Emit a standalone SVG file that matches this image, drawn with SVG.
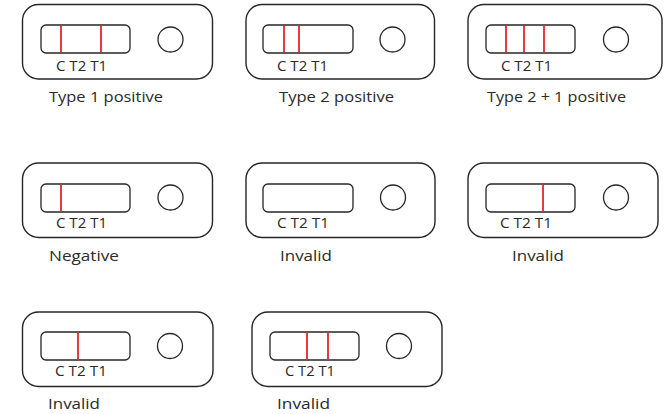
<svg xmlns="http://www.w3.org/2000/svg" width="665" height="414" viewBox="0 0 665 414">
  <defs>
    <style>
      .card { fill: #ffffff; stroke: #262626; stroke-width: 1.4; }
      .win { fill: #ffffff; stroke: #262626; stroke-width: 1.3; }
      .well { fill: #ffffff; stroke: #262626; stroke-width: 1.3; }
      .band { stroke: #e3262d; stroke-width: 1.8; }
      .mark { font-family: "Open Sans", "Liberation Sans", sans-serif; font-size: 14.5px; fill: #2a2a2a; }
      .cap { font-family: "Open Sans", "Liberation Sans", sans-serif; font-size: 14.5px; fill: #2a2a2a; }
    </style>
  </defs>
  <rect width="665" height="414" fill="#ffffff"/>

  <!-- Row 1 -->
  <g id="type1-positive">
    <rect class="card" x="22.5" y="4.5" width="190" height="74.5" rx="16"/>
    <rect class="win" x="41" y="25" width="89" height="28" rx="5"/>
    <line class="band" x1="61" y1="25.7" x2="61" y2="52.3"/>
    <line class="band" x1="101" y1="25.7" x2="101" y2="52.3"/>
    <ellipse class="well" cx="170.5" cy="39.5" rx="12.5" ry="12.5"/>
    <text class="mark" x="56" y="71" textLength="51" lengthAdjust="spacingAndGlyphs">C T2 T1</text>
    <text class="cap" x="49" y="102" textLength="114" lengthAdjust="spacingAndGlyphs">Type 1 positive</text>
  </g>

  <g id="type2-positive">
    <rect class="card" x="246" y="4.5" width="188.5" height="74.5" rx="16"/>
    <rect class="win" x="263" y="25" width="90" height="28" rx="5"/>
    <line class="band" x1="284" y1="25.7" x2="284" y2="52.3"/>
    <line class="band" x1="299" y1="25.7" x2="299" y2="52.3"/>
    <ellipse class="well" cx="392.5" cy="39.5" rx="12.5" ry="12.5"/>
    <text class="mark" x="277" y="71" textLength="51" lengthAdjust="spacingAndGlyphs">C T2 T1</text>
    <text class="cap" x="279" y="102" textLength="115" lengthAdjust="spacingAndGlyphs">Type 2 positive</text>
  </g>

  <g id="type2-1-positive">
    <rect class="card" x="468" y="4.5" width="194" height="74.5" rx="16"/>
    <rect class="win" x="486" y="25" width="89" height="28" rx="5"/>
    <line class="band" x1="506" y1="25.7" x2="506" y2="52.3"/>
    <line class="band" x1="524" y1="25.7" x2="524" y2="52.3"/>
    <line class="band" x1="544" y1="25.7" x2="544" y2="52.3"/>
    <ellipse class="well" cx="616" cy="39.5" rx="12.5" ry="12.5"/>
    <text class="mark" x="501" y="71" textLength="51" lengthAdjust="spacingAndGlyphs">C T2 T1</text>
    <text class="cap" x="487" y="102" textLength="139" lengthAdjust="spacingAndGlyphs">Type 2 + 1 positive</text>
  </g>

  <!-- Row 2 -->
  <g id="negative">
    <rect class="card" x="22.5" y="163" width="190" height="74.5" rx="16"/>
    <rect class="win" x="41" y="184" width="89" height="28" rx="5"/>
    <line class="band" x1="61" y1="184.7" x2="61" y2="211.3"/>
    <ellipse class="well" cx="170.5" cy="197.5" rx="12.5" ry="12.5"/>
    <text class="mark" x="56" y="228" textLength="51" lengthAdjust="spacingAndGlyphs">C T2 T1</text>
    <text class="cap" x="49" y="261" textLength="70" lengthAdjust="spacingAndGlyphs">Negative</text>
  </g>

  <g id="invalid-blank">
    <rect class="card" x="246" y="163" width="189" height="74.5" rx="16"/>
    <rect class="win" x="263" y="184" width="90" height="28" rx="5"/>
    <ellipse class="well" cx="393" cy="197.5" rx="12.5" ry="12.5"/>
    <text class="mark" x="277" y="228" textLength="52" lengthAdjust="spacingAndGlyphs">C T2 T1</text>
    <text class="cap" x="280" y="261" textLength="52" lengthAdjust="spacingAndGlyphs">Invalid</text>
  </g>

  <g id="invalid-t1-only">
    <rect class="card" x="468" y="163" width="190" height="74.5" rx="16"/>
    <rect class="win" x="486" y="184" width="89" height="28" rx="5"/>
    <line class="band" x1="543" y1="184.7" x2="543" y2="211.3"/>
    <ellipse class="well" cx="616" cy="197.5" rx="12.5" ry="12.5"/>
    <text class="mark" x="500" y="228" textLength="52" lengthAdjust="spacingAndGlyphs">C T2 T1</text>
    <text class="cap" x="512" y="261" textLength="52" lengthAdjust="spacingAndGlyphs">Invalid</text>
  </g>

  <!-- Row 3 -->
  <g id="invalid-t2-only">
    <rect class="card" x="22.5" y="312" width="190.5" height="74.5" rx="16"/>
    <rect class="win" x="41" y="332" width="89" height="28" rx="5"/>
    <line class="band" x1="78" y1="332.7" x2="78" y2="359.3"/>
    <ellipse class="well" cx="170" cy="346" rx="12.5" ry="12.5"/>
    <text class="mark" x="55" y="376" textLength="52" lengthAdjust="spacingAndGlyphs">C T2 T1</text>
    <text class="cap" x="48" y="409" textLength="52" lengthAdjust="spacingAndGlyphs">Invalid</text>
  </g>

  <g id="invalid-t2-t1">
    <rect class="card" x="252" y="312" width="190" height="74.5" rx="16"/>
    <rect class="win" x="270" y="332" width="89" height="28" rx="5"/>
    <line class="band" x1="307" y1="332.7" x2="307" y2="359.3"/>
    <line class="band" x1="328" y1="332.7" x2="328" y2="359.3"/>
    <ellipse class="well" cx="399" cy="346" rx="12.5" ry="12.5"/>
    <text class="mark" x="285" y="376" textLength="50" lengthAdjust="spacingAndGlyphs">C T2 T1</text>
    <text class="cap" x="277" y="409" textLength="53" lengthAdjust="spacingAndGlyphs">Invalid</text>
  </g>
</svg>
